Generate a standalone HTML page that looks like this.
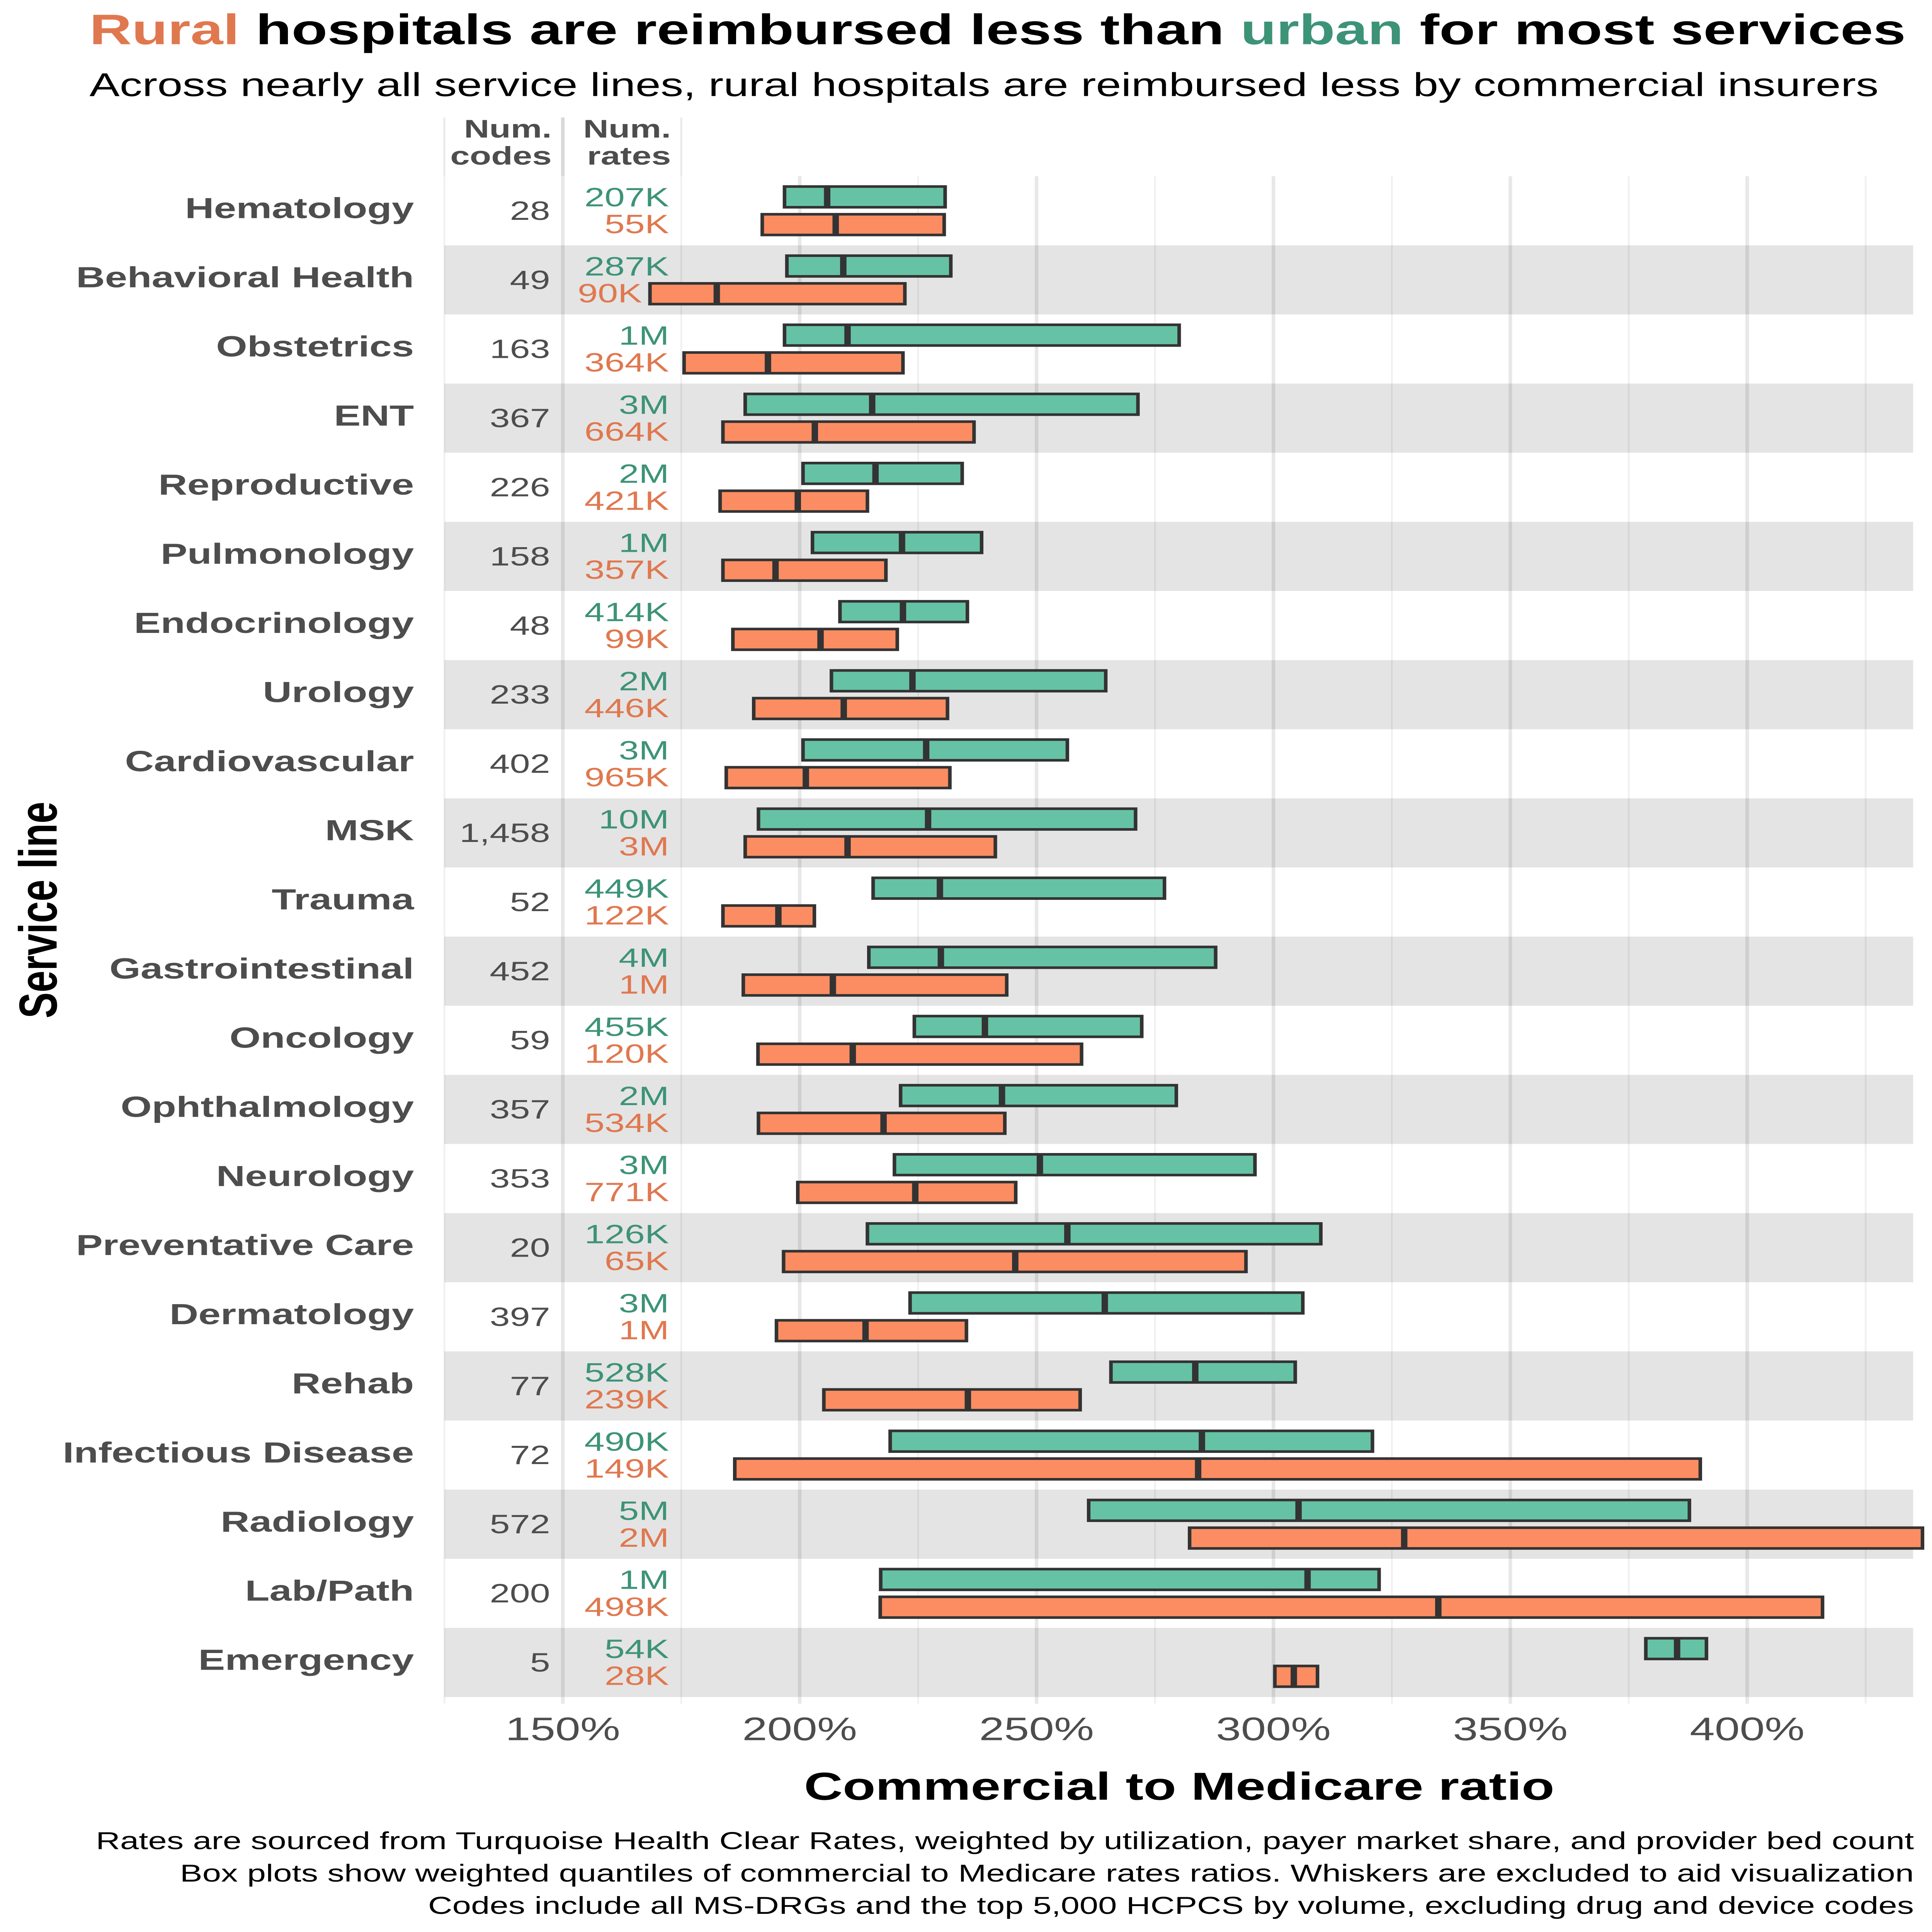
<!DOCTYPE html>
<html lang="en">
<head>
<meta charset="utf-8">
<title>Rural hospitals are reimbursed less than urban for most services</title>
<style>
html,body{margin:0;padding:0;background:#fff;width:100vw;height:100vh;overflow:hidden}
svg{display:block;position:absolute;left:0;top:0;width:100vw;height:100vh}
text{font-family:"Liberation Sans",Arial,sans-serif}
</style>
</head>
<body>
<svg id="chart" xmlns="http://www.w3.org/2000/svg" viewBox="0 0 5120 7040" preserveAspectRatio="none">
  <text x="237" y="161" font-size="155.5" font-weight="700" fill="#000"><tspan fill="#e0784f">Rural</tspan> hospitals are reimbursed less than <tspan fill="#3d9378">urban</tspan> for most services</text>
  <text x="237" y="350" font-size="120" fill="#000">Across nearly all service lines, rural hospitals are reimbursed less by commercial insurers</text>
  <g id="bands"></g>
  <g id="grid"></g>
  <g id="rows"></g>
  <g id="ticks"></g>
  <text x="1462" y="501" font-size="93" font-weight="700" fill="#4d4d4d" text-anchor="end">Num.</text>
  <text x="1462" y="600" font-size="93" font-weight="700" fill="#4d4d4d" text-anchor="end">codes</text>
  <text x="1778" y="501" font-size="93" font-weight="700" fill="#4d4d4d" text-anchor="end">Num.</text>
  <text x="1778" y="600" font-size="93" font-weight="700" fill="#4d4d4d" text-anchor="end">rates</text>
  <text x="3125" y="6558" font-size="142" font-weight="700" fill="#000" text-anchor="middle">Commercial to Medicare ratio</text>
  <text transform="translate(150 3316) rotate(-90)" font-size="142" font-weight="700" fill="#000" text-anchor="middle">Service line</text>
  <text x="5072" y="6738" font-size="89" fill="#000" text-anchor="end">Rates are sourced from Turquoise Health Clear Rates, weighted by utilization, payer market share, and provider bed count</text>
  <text x="5072" y="6856" font-size="89" fill="#000" text-anchor="end">Box plots show weighted quantiles of commercial to Medicare rates ratios. Whiskers are excluded to aid visualization</text>
  <text x="5072" y="6974" font-size="89" fill="#000" text-anchor="end">Codes include all MS-DRGs and the top 5,000 HCPCS by volume, excluding drug and device codes</text>
</svg>
<script>
const categories = ["Hematology","Behavioral Health","Obstetrics","ENT","Reproductive","Pulmonology","Endocrinology","Urology","Cardiovascular","MSK","Trauma","Gastrointestinal","Oncology","Ophthalmology","Neurology","Preventative Care","Dermatology","Rehab","Infectious Disease","Radiology","Lab/Path","Emergency"];
const numCodes = ["28","49","163","367","226","158","48","233","402","1,458","52","452","59","357","353","20","397","77","72","572","200","5"];
const urbanRates = ["207K","287K","1M","3M","2M","1M","414K","2M","3M","10M","449K","4M","455K","2M","3M","126K","3M","528K","490K","5M","1M","54K"];
const ruralRates = ["55K","90K","364K","664K","421K","357K","99K","446K","965K","3M","122K","1M","120K","534K","771K","65K","1M","239K","149K","2M","498K","28K"];
const urbanLow = [196.8,197.3,196.8,188.5,200.7,202.7,208.5,206.7,200.7,191.3,215.5,214.6,224.2,221.3,220.0,214.3,223.3,265.7,219.1,261.0,217.1,378.6];
const urbanMedian = [205.8,209.2,210.1,215.3,216.0,221.6,221.8,223.8,226.7,227.1,229.6,229.8,239.1,242.7,250.7,256.5,264.4,283.5,284.9,305.3,307.2,385.2];
const urbanHigh = [230.7,231.9,280.1,271.4,234.3,238.4,235.4,264.6,256.5,270.9,277.0,287.8,272.2,279.5,296.1,310.0,306.2,304.6,320.9,387.8,322.3,391.4];
const ruralLow = [192.1,168.4,175.6,183.8,183.2,183.8,185.9,190.3,184.5,188.5,183.8,188.1,191.2,191.3,199.6,196.6,195.1,205.1,186.3,282.3,217.0,300.3];
const ruralMedian = [207.6,182.5,193.3,203.2,199.6,194.9,204.4,209.3,201.3,210.1,195.5,207.0,211.2,217.7,224.4,245.5,213.9,235.5,284.1,327.6,334.8,304.3];
const ruralHigh = [230.5,222.2,221.8,236.8,214.3,218.2,220.6,231.2,231.7,241.3,203.1,243.7,259.5,243.3,245.6,294.2,235.2,259.2,390.1,437.0,415.9,309.3];
const majorTicks = [150,200,250,300,350,400];
const minorTicks = [125,175,225,275,325,375,425];
const headerTicks = [125,150,175];
const tickSuffix = "%";

const NS = "http://www.w3.org/2000/svg";
const PANEL_RIGHT = 5070, PANEL_TOP = 642, PANEL_BOTTOM = 6208, HEADER_TOP = 428;
const ROW_H = 251.9, BOX_OFFSET = 50.5, BOX_H = 75.5, RATES_RIGHT = 1773;
function x(v){ return 1491.5 + (v - 150) * 12.555; }
function rowTop(i){ return 642 + ROW_H * i; }
function rowCenter(i){ return rowTop(i) + ROW_H / 2; }
function make(parent, tag, props, content){
  const node = document.createElementNS(NS, tag);
  for (const k in props) node.setAttribute(k, props[k]);
  if (content !== undefined) node.textContent = content;
  parent.appendChild(node);
  return node;
}
const bandsG = document.getElementById("bands");
const gridG = document.getElementById("grid");
const rowsG = document.getElementById("rows");
const ticksG = document.getElementById("ticks");
const PANEL_LEFT = x(125);

categories.forEach(function(name, i){
  if (i % 2 === 1) {
    const band = make(bandsG, "rect", {x: PANEL_LEFT, y: rowTop(i), width: PANEL_RIGHT - PANEL_LEFT, height: ROW_H, fill: "#e4e4e4"});
    
    
  }
});
minorTicks.forEach(function(t){
  const line = make(gridG, "line", {x1: x(t), x2: x(t), y1: PANEL_TOP, y2: PANEL_BOTTOM, stroke: "#000", "stroke-opacity": 0.06, "stroke-width": 4.7});
  
  
});
majorTicks.forEach(function(t){
  const line = make(gridG, "line", {x1: x(t), x2: x(t), y1: PANEL_TOP, y2: PANEL_BOTTOM, stroke: "#000", "stroke-opacity": 0.09, "stroke-width": 9.5});
  
  
  const label = make(ticksG, "text", {x: x(t), y: 6341, "font-size": 119, fill: "#4d4d4d", "text-anchor": "middle"}, t + tickSuffix);
  
  
});
headerTicks.forEach(function(t){
  const isMajor = majorTicks.indexOf(t) >= 0;
  const line = make(gridG, "line", {x1: x(t), x2: x(t), y1: HEADER_TOP, y2: PANEL_TOP, stroke: "#000", "stroke-opacity": isMajor ? 0.15 : 0.09, "stroke-width": isMajor ? 9.5 : 4.7});
  
  
});
function drawBox(parent, cy, lo, med, hi, fill, kind){
  const box = make(parent, "rect", {x: x(lo), y: cy - BOX_H / 2, width: x(hi) - x(lo), height: BOX_H, fill: fill, stroke: "#333", "stroke-width": 9.5});
  
  
  const median = make(parent, "line", {x1: x(med), x2: x(med), y1: cy - BOX_H / 2, y2: cy + BOX_H / 2, stroke: "#333", "stroke-width": 17});
  
  
}
categories.forEach(function(name, i){
  const c = rowCenter(i);
  const g = make(rowsG, "g", {});
  
  
  const label = make(g, "text", {x: 1097, y: c + 27, "font-size": 106, "font-weight": 700, fill: "#4d4d4d", "text-anchor": "end"}, name);
  
  
  const codes = make(g, "text", {x: 1458, y: c + 33, "font-size": 96, fill: "#4d4d4d", "text-anchor": "end"}, numCodes[i]);
  
  
  drawBox(g, c - BOX_OFFSET, urbanLow[i], urbanMedian[i], urbanHigh[i], "#66c2a5", "urban");
  drawBox(g, c + BOX_OFFSET, ruralLow[i], ruralMedian[i], ruralHigh[i], "#fc8d62", "rural");
  const ur = make(g, "text", {x: Math.min(RATES_RIGHT, x(urbanLow[i]) - 21), y: c - 16, "font-size": 96, fill: "#3d9378", "text-anchor": "end"}, urbanRates[i]);
  
  
  const rr = make(g, "text", {x: Math.min(RATES_RIGHT, x(ruralLow[i]) - 21), y: c + 82, "font-size": 96, fill: "#e0784f", "text-anchor": "end"}, ruralRates[i]);
  
  
});
</script>
</body>
</html>
